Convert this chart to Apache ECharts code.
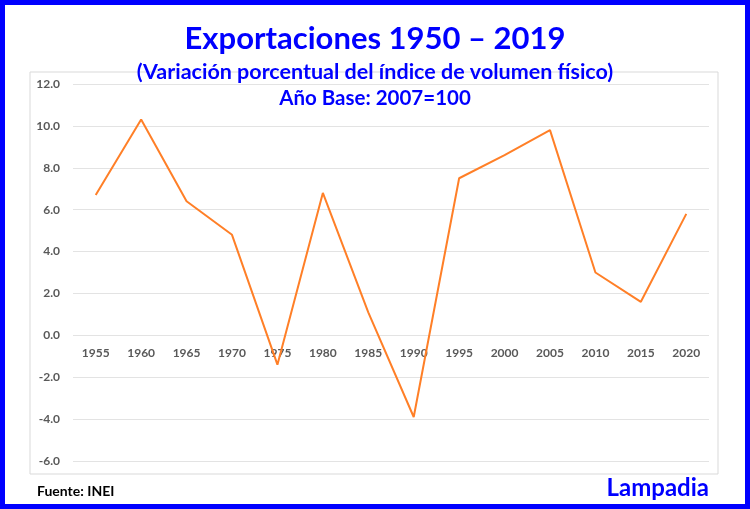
<!DOCTYPE html>
<html><head><meta charset="utf-8">
<script src="https://cdn.jsdelivr.net/npm/echarts@6/dist/echarts.min.js"></script>
<style>html,body{margin:0;padding:0;background:#fff}#c{width:750px;height:509px}</style>
</head><body><div id="c"></div>
<script>
const years = ['1955','1960','1965','1970','1975','1980','1985','1990','1995','2000','2005','2010','2015','2020'];
const values = [6.7, 10.3, 6.4, 4.8, -1.4, 6.8, 1.1, -3.9, 7.5, 8.6, 9.8, 3.0, 1.6, 5.8];
const yTicks = {min: -6, max: 12, step: 2};

const FONT = 'Lato, "Open Sans", sans-serif';
const chart = echarts.init(document.getElementById('c'));
chart.setOption({
  backgroundColor: '#fff',
  animation: false,
  graphic: [
    {type: 'rect', shape: {x: 30, y: 72, width: 688, height: 402}, style: {fill: '#fff', stroke: '#d9d9d9', lineWidth: 1}, z: -10},
    {type: 'rect', shape: {x: 2.5, y: 2.5, width: 745, height: 504}, style: {fill: 'none', stroke: '#0000ff', lineWidth: 5}, z: 100},
    {type: 'text', left: 37, top: 484, style: {text: 'Fuente: INEI', font: 'bold 14px ' + FONT, fill: '#000'}, z: 50},
    {type: 'text', right: 41, top: 476, style: {text: 'Lampadia', font: 'bold 24px ' + FONT, fill: '#0000ff'}, z: 50}
  ],
  title: [
    {text: 'Exportaciones 1950 – 2019', left: 'center', top: 18, textStyle: {color: '#0000ff', fontSize: 31, fontWeight: 'bold', fontFamily: FONT}},
    {text: '(Variación porcentual del índice de volumen físico)', left: 'center', top: 56, textStyle: {color: '#0000ff', fontSize: 21.5, fontWeight: 'bold', fontFamily: FONT}},
    {text: 'Año Base: 2007=100', left: 'center', top: 83, textStyle: {color: '#0000ff', fontSize: 20.5, fontWeight: 'bold', fontFamily: FONT}}
  ],
  grid: {left: 73, right: 41, top: 84, bottom: 48, containLabel: false},
  xAxis: {
    type: 'category', data: years, boundaryGap: true, position: 'bottom', offset: 0,
    axisLine: {show: false, onZero: false}, axisTick: {show: false},
    axisLabel: {color: '#595959', fontSize: 12, fontWeight: 'bold', fontFamily: FONT, margin: 12}
  },
  yAxis: {
    type: 'value', min: yTicks.min, max: yTicks.max, interval: yTicks.step,
    axisLine: {show: false}, axisTick: {show: false},
    axisLabel: {color: '#595959', fontSize: 12, fontWeight: 'bold', fontFamily: FONT, margin: 13, formatter: v => v.toFixed(1)},
    splitLine: {lineStyle: {color: '#e3e3e3', width: 1}}
  },
  series: [{
    type: 'line', data: values, symbol: 'none',
    lineStyle: {color: '#ff7f27', width: 2},
    itemStyle: {color: '#ff7f27'}
  }]
});
// place category labels along the zero line, using the value axis scale
const zeroY = chart.convertToPixel({yAxisIndex: 0}, 0);
const bottomY = chart.convertToPixel({yAxisIndex: 0}, yTicks.min);
chart.setOption({xAxis: {offset: zeroY - bottomY}});
</script></body></html>
